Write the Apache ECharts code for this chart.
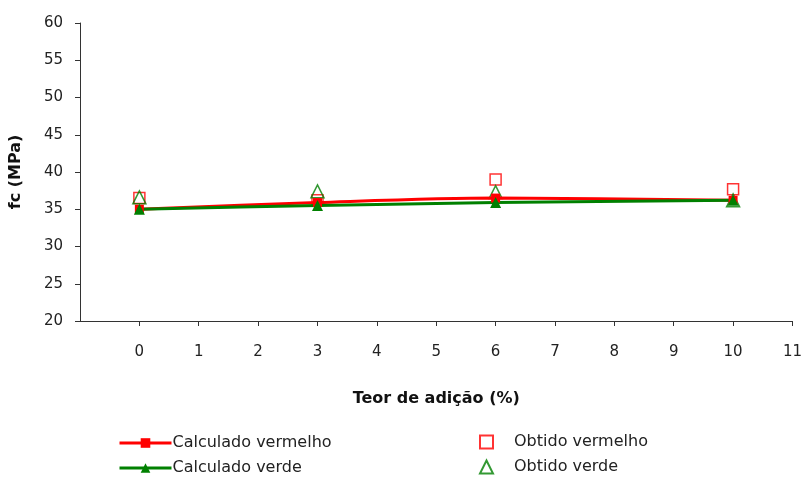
<!DOCTYPE html>
<html>
<head>
<meta charset="utf-8">
<script src="https://cdn.jsdelivr.net/npm/echarts@6/dist/echarts.min.js"></script>
<style>
  html, body { margin: 0; padding: 0; background: #fff; }
  #chart { width: 805px; height: 477px; }
</style>
</head>
<body>
<div id="chart"></div>
<script>
// teor de adição (%)
const teor = [0, 3, 6, 10]
const calcVermelho = [35.0, 35.9, 36.5, 36.2]
const calcVerde = [35.0, 35.5, 35.9, 36.2]
const obtVermelho = [36.5, 36.2, 39.0, 37.7]
const obtVerde = [36.6, 37.4, 37.3, 36.2]
const xTicks = [0, 1, 2, 3, 4, 5, 6, 7, 8, 9, 10, 11]

const font = 'Century Gothic, "DejaVu Sans", sans-serif'
const pairs = arr => teor.map((x, i) => [x, arr[i]])

const chart = echarts.init(document.getElementById('chart'))

function legendItem(name, left, top, lineIcon) {
  return {
    left, top,
    itemWidth: lineIcon ? 52 : 13,
    itemHeight: lineIcon ? 12 : 13,
    lineStyle: { width: 3 },
    textStyle: { fontSize: 16, color: '#222', padding: lineIcon ? [0, 0, 0, -4] : [0, 0, 0, 16] },
    data: [name]
  }
}

chart.setOption({
  animation: false,
  textStyle: { fontFamily: font },
  grid: { left: 80, right: 11, top: 23, bottom: 156 },
  legend: [
    legendItem('Calculado vermelho', 113, 430, true),
    legendItem('Calculado verde', 113, 455, true),
    legendItem('Obtido vermelho', 474, 429, false),
    legendItem('Obtido verde', 474, 454, false)
  ],
  xAxis: {
    type: 'value', min: -1, max: 11, interval: 1,
    name: 'Teor de adição (%)', nameLocation: 'middle', nameGap: 70,
    nameTextStyle: { fontSize: 16, fontWeight: 'bold', color: '#111' },
    axisLine: { onZero: false, lineStyle: { color: '#333' } },
    axisTick: { customValues: xTicks, length: 5, lineStyle: { color: '#333' } },
    axisLabel: { customValues: xTicks, margin: 24, fontSize: 15, color: '#222' },
    splitLine: { show: false }
  },
  yAxis: {
    type: 'value', min: 20, max: 60, interval: 5,
    name: 'fc (MPa)', nameLocation: 'middle', nameGap: 56, nameRotate: 90,
    nameTextStyle: { fontSize: 16, fontWeight: 'bold', color: '#111' },
    axisLine: { show: true, onZero: false, lineStyle: { color: '#333' } },
    axisTick: { show: true, length: 5, lineStyle: { color: '#333' } },
    axisLabel: { margin: 17, fontSize: 15, color: '#222' },
    splitLine: { show: false }
  },
  series: [
    {
      name: 'Calculado vermelho', type: 'line', smooth: 0.3,
      data: pairs(calcVermelho),
      symbol: 'rect', symbolSize: 9,
      lineStyle: { color: '#ff0000', width: 3 },
      itemStyle: { color: '#ff0000' }
    },
    {
      name: 'Calculado verde', type: 'line', smooth: 0.3,
      data: pairs(calcVerde),
      symbol: 'triangle', symbolSize: 11,
      lineStyle: { color: '#008000', width: 3 },
      itemStyle: { color: '#008000' }
    },
    {
      name: 'Obtido vermelho', type: 'scatter',
      data: pairs(obtVermelho),
      symbol: 'rect', symbolSize: 11,
      itemStyle: { color: '#fff', borderColor: '#ff0000', borderWidth: 1.5 }
    },
    {
      name: 'Obtido verde', type: 'scatter',
      data: pairs(obtVerde),
      symbol: 'triangle', symbolSize: 13,
      itemStyle: { color: 'rgba(255,255,255,0)', borderColor: '#008000', borderWidth: 1.5 }
    }
  ]
})
</script>
</body>
</html>
